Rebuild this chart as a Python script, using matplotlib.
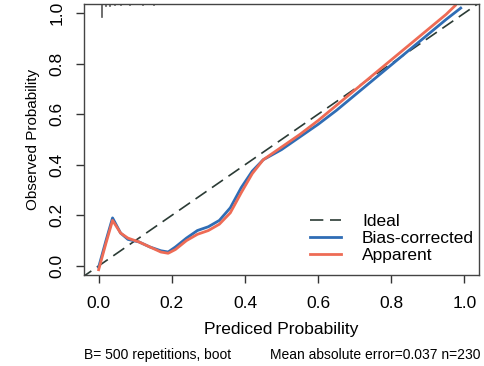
import matplotlib
matplotlib.use("Agg")
import matplotlib.pyplot as plt

plt.rcParams['font.family'] = ['Liberation Sans', 'DejaVu Sans']

# apparent calibration curve
app_x = [0.0, 0.02, 0.038, 0.06, 0.08, 0.11, 0.14, 0.17, 0.19, 0.21, 0.24, 0.27,
         0.30, 0.33, 0.36, 0.39, 0.42, 0.45, 0.50, 0.55, 0.60, 0.65, 0.70, 0.75,
         0.80, 0.85, 0.90, 0.95, 0.975]
app_y = [-0.015, 0.09, 0.18, 0.13, 0.11, 0.095, 0.075, 0.055, 0.05, 0.065, 0.10, 0.125,
         0.14, 0.165, 0.21, 0.29, 0.365, 0.42, 0.47, 0.52, 0.575, 0.635, 0.695, 0.755,
         0.815, 0.875, 0.935, 0.995, 1.03]

# bias-corrected curve
bc_x = [0.0, 0.02, 0.038, 0.06, 0.08, 0.11, 0.14, 0.17, 0.19, 0.21, 0.24, 0.27,
        0.30, 0.33, 0.36, 0.39, 0.42, 0.45, 0.50, 0.55, 0.60, 0.65, 0.70, 0.75,
        0.80, 0.85, 0.90, 0.95, 0.99]
bc_y = [-0.005, 0.10, 0.19, 0.13, 0.105, 0.095, 0.075, 0.06, 0.055, 0.075, 0.11, 0.14,
        0.155, 0.18, 0.23, 0.31, 0.375, 0.42, 0.46, 0.51, 0.56, 0.615, 0.675, 0.735,
        0.795, 0.855, 0.915, 0.975, 1.02]

# distribution of predictions (rug at top)
rug_x = [0.008, 0.02, 0.03, 0.045, 0.06, 0.085, 0.12, 0.15]
rug_h = [0.05, 0.006, 0.006, 0.004, 0.004, 0.003, 0.003, 0.003]

ticks = [0.0, 0.2, 0.4, 0.6, 0.8, 1.0]

fig = plt.figure(figsize=(4.84, 3.66), dpi=100)
ax = fig.add_axes([0.1736, 0.2486, 0.9897 - 0.1736, 0.989 - 0.2486])

ax.plot([-0.05, 1.05], [-0.05, 1.05], color='#2b3b35', lw=1.2,
        dashes=(8, 4), label='Ideal')
ax.plot(bc_x, bc_y, color='#2f6db5', lw=2.0, label='Bias-corrected')
ax.plot(app_x, app_y, color='#ee6b55', lw=2.0, label='Apparent')

top = 1.036
for rx, rh in zip(rug_x, rug_h):
    ax.plot([rx, rx], [top, top - rh], color='#555555', lw=1.2)

ax.set_xlim(-0.04, 1.04)
ax.set_ylim(-0.036, 1.036)
ax.set_xticks(ticks)
ax.set_yticks(ticks)
ax.set_xticklabels(['%.1f' % t for t in ticks])
ax.set_yticklabels(['%.1f' % t for t in ticks], rotation=90, va='center')
ax.tick_params(axis='both', labelsize=12.5, length=6, width=1, color='#333333')
ax.tick_params(axis='x', pad=9)
ax.tick_params(axis='y', pad=8)
for s in ax.spines.values():
    s.set_color('#444444')
    s.set_linewidth(1)

ax.set_xlabel('Prediced Probability', fontsize=12.5, labelpad=8)
ax.set_ylabel('Observed Probability', fontsize=11, labelpad=7)

ax.legend(loc='lower right', bbox_to_anchor=(1.027, -0.012), frameon=False,
          fontsize=12.5, handlelength=1.8, labelspacing=0.1, handletextpad=1.2)

fig.text(0.174, 0.03, 'B= 500 repetitions, boot', fontsize=10, ha='left', va='center')
fig.text(0.992, 0.03, 'Mean absolute error=0.037 n=230', fontsize=10, ha='right', va='center')

fig.savefig('out.png', dpi=100)
